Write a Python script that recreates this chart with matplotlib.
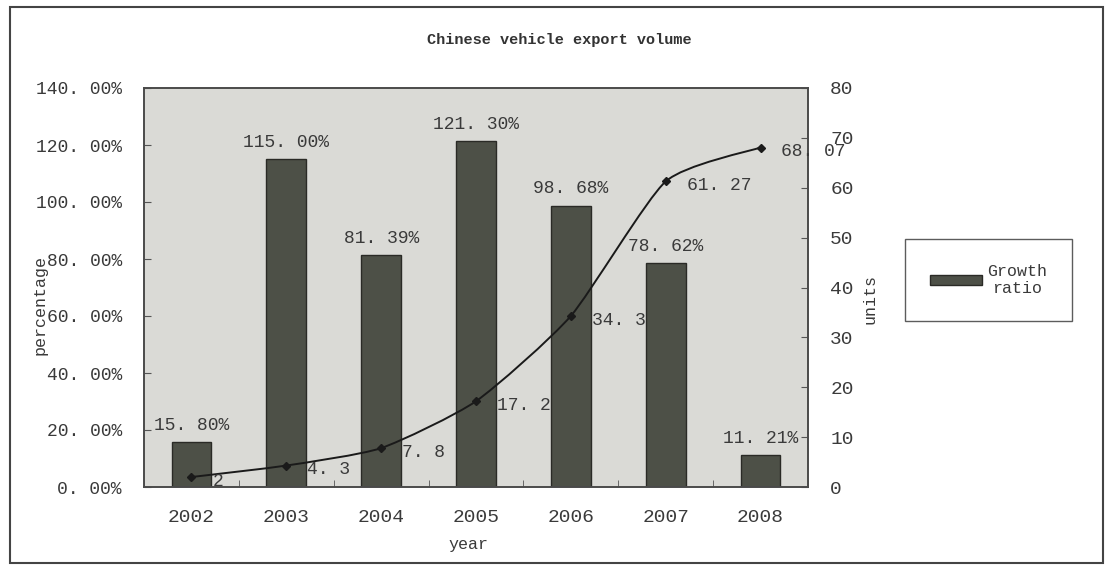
import matplotlib.pyplot as plt
from matplotlib.patches import Rectangle, PathPatch
from matplotlib.path import Path
import numpy as np

years = ["2002", "2003", "2004", "2005", "2006", "2007", "2008"]
growth_pct = [15.80, 115.00, 81.39, 121.30, 98.68, 78.62, 11.21]
export_units = [2, 4.3, 7.8, 17.2, 34.3, 61.27, 68.07]
left_ticks = [0, 20, 40, 60, 80, 100, 120, 140]
right_ticks = [0, 10, 20, 30, 40, 50, 60, 70, 80]

FONT = ["Liberation Mono", "DejaVu Sans Mono"]
TXT = "#3a3a3a"
plt.rcParams['font.family'] = FONT


def spaced(s):
    # full-width style period, as in the original labels
    return s.replace(".", ". ")


fig = plt.figure(figsize=(11.05, 5.69), dpi=100)
fig.patch.set_facecolor("white")
ax = fig.add_axes([144 / 1105, 82 / 569, 664 / 1105, 399 / 569])
ax.set_facecolor("#dadad6")

x = np.arange(len(years))
bars = ax.bar(x, growth_pct, width=0.42, color="#4d5047", edgecolor="#2a2a26", linewidth=1.0, zorder=2,
              label="Growth\nratio")
for xi, v in zip(x, growth_pct):
    ax.annotate(spaced(f"{v:.2f}%"), (xi, v), xytext=(0, 6), textcoords="offset points",
                ha="center", va="bottom", fontsize=13, color=TXT, zorder=5)

ax.set_xlim(-0.5, len(years) - 0.5)
ax.set_ylim(0, 140)
ax.set_yticks(left_ticks)
ax.set_yticklabels([spaced(f"{t:.2f}%") for t in left_ticks], fontsize=13, color=TXT)
ax.set_xticks(x)
ax.set_xticklabels(years, fontsize=14, color=TXT)
ax.set_xticks(np.arange(-0.5, len(years)), minor=True)
ax.tick_params(axis="x", which="major", length=0, pad=16)
ax.tick_params(axis="x", which="minor", direction="in", length=5, color="#555")
ax.tick_params(axis="y", direction="in", length=5, pad=16, color="#555")

ax2 = ax.twinx()
ax2.set_ylim(0, 80)
ax2.set_yticks(right_ticks)
ax2.set_yticklabels([str(t) for t in right_ticks], fontsize=14, color=TXT)
ax2.tick_params(axis="y", direction="in", length=5, pad=16, color="#555")

for a in (ax, ax2):
    for s in a.spines.values():
        s.set_color("#4a4a4a")
        s.set_linewidth(1.2)

# lightly smoothed line through the points, built in display space
pts = ax2.transData.transform(np.column_stack([x, export_units]))
verts = [pts[0]]
codes = [Path.MOVETO]
k = 10.0
for i in range(len(pts) - 1):
    p0 = pts[i - 1] if i > 0 else pts[i]
    p1, p2 = pts[i], pts[i + 1]
    p3 = pts[i + 2] if i + 2 < len(pts) else pts[i + 1]
    verts += [p1 + (p2 - p0) / k, p2 - (p3 - p1) / k, p2]
    codes += [Path.CURVE4] * 3
verts = ax2.transData.inverted().transform(np.array(verts))
ax2.add_patch(PathPatch(Path(verts, codes), facecolor="none", edgecolor="#1a1a1a", linewidth=1.4, zorder=4))
ax2.plot(x, export_units, linestyle="none", marker="D", markersize=4.5, color="#1a1a1a", zorder=5)
for xi, v in zip(x, export_units):
    ax2.annotate(spaced(f"{v:g}"), (xi, v), xytext=(15, -3), textcoords="offset points",
                 ha="left", va="center", fontsize=13, color=TXT, zorder=6)

fig.text(559 / 1105, 1 - 40 / 569, "Chinese vehicle export volume", ha="center", va="center",
         fontsize=11, fontweight="bold", color="#333")
fig.text(40 / 1105, 1 - 305 / 569, "percentage", rotation=90, ha="center", va="center",
         fontsize=12, color=TXT)
fig.text(870 / 1105, 1 - 299 / 569, "units", rotation=90, ha="center", va="center",
         fontsize=12, color=TXT)
fig.text(468 / 1105, 1 - 545 / 569, "year", ha="center", va="center", fontsize=12, color=TXT)

leg = fig.legend(handles=[bars], loc="upper left", bbox_to_anchor=(905 / 1105, 1 - 239 / 569),
                 fontsize=12, frameon=True, fancybox=False, handlelength=3.1, handleheight=0.55,
                 handletextpad=0.3, borderpad=1.5, borderaxespad=0)
leg.get_frame().set_edgecolor("#333")
leg.get_frame().set_linewidth(1.0)
for t in leg.get_texts():
    t.set_multialignment("center")
    t.set_color(TXT)

fig.add_artist(Rectangle((10 / 1105, 6 / 569), 1093 / 1105, 556 / 569, transform=fig.transFigure,
                         fill=False, edgecolor="#444", linewidth=1.5))

fig.savefig("out.png", dpi=100)
